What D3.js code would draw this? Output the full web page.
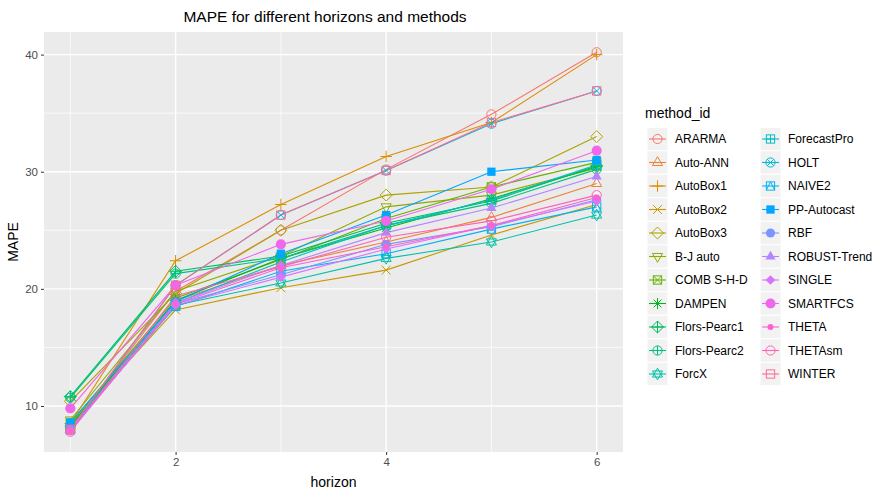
<!DOCTYPE html>
<html>
<head>
<meta charset="utf-8">
<script src="https://cdn.jsdelivr.net/npm/d3@7"></script>
<style>
  body { margin: 0; background: #fff; }
  text { font-family: "Liberation Sans", Arial, sans-serif; }
</style>
</head>
<body>
<div id="vis"></div>
<script>
// data
const horizons = [1, 2, 3, 4, 5, 6];
const methods = ["ARARMA", "Auto-ANN", "AutoBox1", "AutoBox2", "AutoBox3", "B-J auto",
        "COMB S-H-D", "DAMPEN", "Flors-Pearc1", "Flors-Pearc2", "ForcX", "ForecastPro",
        "HOLT", "NAIVE2", "PP-Autocast", "RBF", "ROBUST-Trend", "SINGLE", "SMARTFCS",
        "THETA", "THETAsm", "WINTER"];
const mape = [
  [8.2, 19.8, 25.0, 30.2, 34.9, 40.2],   // ARARMA
  [8.3, 19.0, 22.0, 24.0, 26.1, 29.0],   // Auto-ANN
  [8.5, 22.4, 27.2, 31.3, 34.2, 40.0],   // AutoBox1
  [8.4, 18.2, 20.1, 21.6, 24.6, 27.2],   // AutoBox2
  [10.4, 19.6, 25.0, 28.0, 28.7, 33.0],  // AutoBox3
  [8.8, 19.8, 22.8, 27.0, 28.0, 30.3],   // B-J auto
  [8.5, 19.2, 22.5, 26.0, 28.7, 30.8],   // COMB S-H-D
  [8.3, 19.0, 22.6, 25.2, 27.7, 30.4],   // DAMPEN
  [10.8, 21.5, 22.8, 25.6, 27.5, 30.5],  // Flors-Pearc1
  [10.7, 21.3, 22.6, 25.4, 27.3, 30.2],  // Flors-Pearc2
  [8.0, 18.6, 20.5, 22.6, 24.0, 26.3],   // ForcX
  [8.2, 18.8, 22.3, 25.4, 27.6, 30.6],   // ForecastPro
  [8.0, 20.3, 26.3, 30.1, 34.1, 36.9],   // HOLT
  [8.1, 18.5, 21.5, 23.0, 25.1, 27.0],   // NAIVE2
  [8.6, 18.9, 23.0, 26.3, 30.0, 31.0],   // PP-Autocast
  [8.0, 18.7, 21.2, 23.8, 25.3, 27.6],   // RBF
  [7.8, 18.8, 22.0, 24.8, 26.9, 29.6],   // ROBUST-Trend
  [7.9, 18.6, 21.0, 23.4, 25.4, 27.5],   // SINGLE
  [9.8, 20.3, 23.8, 25.8, 28.5, 31.8],   // SMARTFCS
  [7.9, 18.7, 21.8, 23.6, 25.4, 27.8],   // THETA
  [7.8, 19.4, 21.9, 24.4, 25.8, 28.0],   // THETAsm
  [8.0, 20.3, 26.3, 30.1, 34.2, 36.9]    // WINTER
];
const xTicks = [2, 4, 6];
const yTicks = [10, 20, 30, 40];

// ggplot point shapes 1..22
const shapeCodes = d3.range(1, 23);

const W = 878, H = 494;
const panel = {left: 44, right: 623, top: 32, bottom: 452};

// ggplot hue palette (polar LUV)
function hclLuv(h, c, l) {
  const hr = h * Math.PI / 180;
  const U = c * Math.cos(hr), V = c * Math.sin(hr);
  const Xn = 95.047, Yn = 100, Zn = 108.883;
  const Y = l > 8 ? Yn * Math.pow((l + 16) / 116, 3) : Yn * l / 903.3;
  const den = Xn + 15 * Yn + 3 * Zn;
  const un = 4 * Xn / den, vn = 9 * Yn / den;
  const u = U / (13 * l) + un, v = V / (13 * l) + vn;
  const X = 9 * Y * u / (4 * v);
  const Z = -X / 3 - 5 * Y + 3 * Y / v;
  const x = X / 100, y = Y / 100, z = Z / 100;
  let rgb = [
    3.240479 * x - 1.537150 * y - 0.498535 * z,
    -0.969256 * x + 1.875992 * y + 0.041556 * z,
    0.055648 * x - 0.204043 * y + 1.057311 * z
  ];
  rgb = rgb.map(t => {
    t = t <= 0.0031308 ? 12.92 * t : 1.055 * Math.pow(t, 1 / 2.4) - 0.055;
    return Math.round(255 * Math.max(0, Math.min(1, t)));
  });
  return d3.rgb(rgb[0], rgb[1], rgb[2]).formatHex();
}
const nM = methods.length;
const colors = methods.map((m, i) => hclLuv(15 + i * 360 / nM, 100, 65));

const svg = d3.select("#vis").append("svg")
        .attr("width", W).attr("height", H);

const x = d3.scaleLinear().domain([0.75, 6.25]).range([panel.left, panel.right]);
const y = d3.scaleLinear().domain([6.07, 41.93]).range([panel.bottom, panel.top]);

// panel + grid
svg.append("rect")
        .attr("x", panel.left).attr("y", panel.top)
        .attr("width", panel.right - panel.left)
        .attr("height", panel.bottom - panel.top)
        .attr("fill", "#EBEBEB");

const grid = svg.append("g");
[1, 3, 5].forEach(v => grid.append("line")
        .attr("x1", x(v)).attr("x2", x(v)).attr("y1", panel.top).attr("y2", panel.bottom)
        .attr("stroke", "#fff").attr("stroke-width", 0.7));
[15, 25, 35].forEach(v => grid.append("line")
        .attr("y1", y(v)).attr("y2", y(v)).attr("x1", panel.left).attr("x2", panel.right)
        .attr("stroke", "#fff").attr("stroke-width", 0.7));
xTicks.forEach(v => grid.append("line")
        .attr("x1", x(v)).attr("x2", x(v)).attr("y1", panel.top).attr("y2", panel.bottom)
        .attr("stroke", "#fff").attr("stroke-width", 1.4));
yTicks.forEach(v => grid.append("line")
        .attr("y1", y(v)).attr("y2", y(v)).attr("x1", panel.left).attr("x2", panel.right)
        .attr("stroke", "#fff").attr("stroke-width", 1.4));

// axes
const xAxis = svg.append("g")
        .attr("transform", "translate(0," + panel.bottom + ")")
        .call(d3.axisBottom(x).tickValues(xTicks).tickSize(3).tickPadding(3).tickFormat(d3.format("d")));
const yAxis = svg.append("g")
        .attr("transform", "translate(" + panel.left + ",0)")
        .call(d3.axisLeft(y).tickValues(yTicks).tickSize(3).tickPadding(3).tickFormat(d3.format("d")));
[xAxis, yAxis].forEach(g => {
  g.select(".domain").remove();
  g.selectAll("line").attr("stroke", "#333");
  g.selectAll("text").attr("fill", "#4D4D4D").attr("font-size", 11.5)
          .style("font-family", "Liberation Sans, Arial, sans-serif");
});

// titles
svg.append("text").attr("x", 325).attr("y", 22).attr("text-anchor", "middle")
        .attr("font-size", 15.5).attr("fill", "#000")
        .text("MAPE for different horizons and methods");
svg.append("text").attr("x", x(3.5)).attr("y", 487).attr("text-anchor", "middle")
        .attr("font-size", 14).attr("fill", "#000").text("horizon");
svg.append("text")
        .attr("transform", "translate(18," + y(24) + ") rotate(-90)")
        .attr("text-anchor", "middle")
        .attr("font-size", 14).attr("fill", "#000").text("MAPE");

// marker drawing
function drawShape(g, code, cx, cy, col, r) {
  const sw = 1;
  const stroke = el => el.attr("fill", "none").attr("stroke", col).attr("stroke-width", sw);
  const circ = rr => stroke(g.append("circle").attr("cx", cx).attr("cy", cy).attr("r", rr));
  const sq = s => stroke(g.append("rect").attr("x", cx - s).attr("y", cy - s)
          .attr("width", 2 * s).attr("height", 2 * s));
  const pth = d => stroke(g.append("path").attr("d", d));
  const plus = s => pth(`M${cx - s},${cy}H${cx + s}M${cx},${cy - s}V${cy + s}`);
  const cross = s => pth(`M${cx - s},${cy - s}L${cx + s},${cy + s}M${cx - s},${cy + s}L${cx + s},${cy - s}`);
  const triUp = s => `M${cx},${cy - s * 1.15}L${cx + s},${cy + s * 0.6}L${cx - s},${cy + s * 0.6}Z`;
  const triDn = s => `M${cx},${cy + s * 1.15}L${cx + s},${cy - s * 0.6}L${cx - s},${cy - s * 0.6}Z`;
  const diam = s => `M${cx},${cy - s}L${cx + s},${cy}L${cx},${cy + s}L${cx - s},${cy}Z`;
  const s = r;
  switch (code) {
    case 1: circ(s); break;
    case 2: pth(triUp(s * 1.1)); break;
    case 3: plus(s * 1.25); break;
    case 4: cross(s * 0.95); break;
    case 5: pth(diam(s * 1.3)); break;
    case 6: pth(triDn(s * 1.1)); break;
    case 7: sq(s * 0.9); cross(s * 0.9); break;
    case 8: plus(s * 1.2); cross(s * 0.85); break;
    case 9: pth(diam(s * 1.3)); plus(s * 1.3); break;
    case 10: circ(s); plus(s); break;
    case 11: pth(triUp(s * 1.1)); pth(triDn(s * 1.1)); break;
    case 12: sq(s * 0.9); plus(s * 0.9); break;
    case 13: circ(s); cross(s * 0.71); break;
    case 14: sq(s * 0.9); pth(`M${cx - s * 0.9},${cy + s * 0.9}L${cx},${cy - s * 0.9}L${cx + s * 0.9},${cy + s * 0.9}`); break;
    case 15: g.append("rect").attr("x", cx - s * 0.9).attr("y", cy - s * 0.9)
            .attr("width", 1.8 * s).attr("height", 1.8 * s).attr("fill", col); break;
    case 16: g.append("circle").attr("cx", cx).attr("cy", cy).attr("r", s).attr("fill", col); break;
    case 17: g.append("path").attr("d", triUp(s * 1.1)).attr("fill", col); break;
    case 18: g.append("path").attr("d", diam(s * 1.05)).attr("fill", col); break;
    case 19: g.append("circle").attr("cx", cx).attr("cy", cy).attr("r", s * 1.1).attr("fill", col); break;
    case 20: g.append("circle").attr("cx", cx).attr("cy", cy).attr("r", s * 0.65).attr("fill", col); break;
    case 21: circ(s); break;
    case 22: sq(s * 0.9); break;
  }
}

const line = d3.line().x((d, i) => x(horizons[i])).y(d => y(d));

// lines, then points, in factor order
const lines = svg.append("g");
mape.forEach((vals, i) => {
  lines.append("path").attr("d", line(vals))
          .attr("fill", "none").attr("stroke", colors[i]).attr("stroke-width", 1.1);
});
const pts = svg.append("g");
mape.forEach((vals, i) => {
  vals.forEach((v, j) => drawShape(pts, shapeCodes[i], x(horizons[j]), y(v), colors[i], 4.6));
});

// legend
const leg = svg.append("g");
leg.append("text").attr("x", 645).attr("y", 118).attr("font-size", 14)
        .attr("fill", "#000").text("method_id");
const rowH = 23.5, key = 21;
methods.forEach((m, i) => {
  const col = Math.floor(i / 11), row = i % 11;
  const kx = col === 0 ? 647 : 760;
  const cy = 139 + row * rowH;
  leg.append("rect").attr("x", kx).attr("y", cy - rowH / 2)
          .attr("width", key).attr("height", rowH).attr("fill", "#F2F2F2")
          .attr("stroke", "#fff").attr("stroke-width", 1);
  leg.append("line").attr("x1", kx + 2).attr("x2", kx + key - 2)
          .attr("y1", cy).attr("y2", cy).attr("stroke", colors[i]).attr("stroke-width", 1.1);
  drawShape(leg, shapeCodes[i], kx + key / 2, cy, colors[i], 4.6);
  leg.append("text").attr("x", kx + key + 7).attr("y", cy + 4.2)
          .attr("font-size", 12).attr("fill", "#000").text(m);
});
</script>
</body>
</html>
